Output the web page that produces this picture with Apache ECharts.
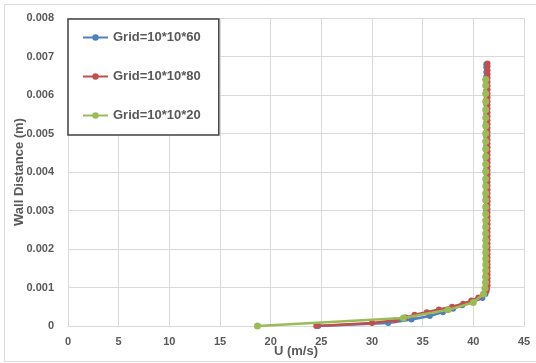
<!DOCTYPE html>
<html>
<head>
<meta charset="utf-8">
<script src="https://cdn.jsdelivr.net/npm/echarts@6/dist/echarts.min.js"></script>
<style>
  html, body { margin: 0; padding: 0; background: #fff; }
  #chart { width: 536px; height: 363px; }
</style>
</head>
<body>
<div id="chart"></div>
<script>
// Velocity profiles (U vs wall distance) for three mesh resolutions
const seriesNames = ['Grid=10*10*60', 'Grid=10*10*80', 'Grid=10*10*20'];

const uGrid60 = [24.7, 31.6, 33.9, 35.7, 37.0, 38.0, 38.9, 40.0, 40.9, 41.2, 41.27,
  41.28, 41.28, 41.28, 41.28, 41.28, 41.28, 41.28, 41.28, 41.28, 41.28,
  41.28, 41.28, 41.28, 41.28, 41.28, 41.28, 41.28, 41.28, 41.28, 41.28,
  41.28, 41.28, 41.28, 41.28, 41.28, 41.28, 41.28, 41.28, 41.28, 41.28,
  41.28, 41.28, 41.28, 41.28, 41.28, 41.28, 41.28, 41.28, 41.28, 41.28,
  41.28, 41.28, 41.28, 41.28, 41.28, 41.28, 41.28, 41.28, 41.28, 41.28];
const yGrid60 = [0, 0.00008, 0.00017, 0.00026, 0.00036, 0.00045, 0.00054, 0.00063, 0.00073, 0.00083, 0.00093,
  0.00104, 0.00115, 0.00126, 0.00137, 0.00148, 0.00159, 0.00170, 0.00181, 0.00192, 0.00204,
  0.00216, 0.00228, 0.00240, 0.00252, 0.00264, 0.00276, 0.00288, 0.00300, 0.00312, 0.00324,
  0.00336, 0.00348, 0.00360, 0.00372, 0.00384, 0.00396, 0.00408, 0.00420, 0.00432, 0.00444,
  0.00456, 0.00468, 0.00480, 0.00492, 0.00504, 0.00516, 0.00528, 0.00540, 0.00552, 0.00564,
  0.00576, 0.00588, 0.00600, 0.00612, 0.00624, 0.00636, 0.00648, 0.00660, 0.00672, 0.00680];

const uGrid80 = [24.5, 30.0, 32.3, 33.3, 34.2, 35.4, 36.6, 37.9, 39.0, 39.8, 40.5, 41.0, 41.3, 41.37,
  41.4, 41.4, 41.4, 41.4, 41.4, 41.4, 41.4, 41.4, 41.4, 41.4,
  41.4, 41.4, 41.4, 41.4, 41.4, 41.4, 41.4, 41.4, 41.4, 41.4,
  41.4, 41.4, 41.4, 41.4, 41.4, 41.4, 41.4, 41.4, 41.4, 41.4,
  41.4, 41.4, 41.4, 41.4, 41.4, 41.4, 41.4, 41.4, 41.4, 41.4,
  41.4, 41.4, 41.4, 41.4, 41.4, 41.4, 41.4, 41.4, 41.4, 41.4,
  41.4, 41.4, 41.4, 41.4, 41.4, 41.4, 41.4, 41.4, 41.4, 41.4];
const yGrid80 = [0, 0.00008, 0.00015, 0.00022, 0.00029, 0.00036, 0.00043, 0.00050, 0.00058, 0.00066, 0.00074, 0.00082, 0.00090, 0.00098,
  0.00106, 0.00115, 0.00124, 0.00133, 0.00142, 0.00151, 0.00160, 0.00169, 0.00178, 0.00187,
  0.00196, 0.00205, 0.00214, 0.00224, 0.00234, 0.00244, 0.00254, 0.00264, 0.00274, 0.00284,
  0.00294, 0.00304, 0.00314, 0.00324, 0.00334, 0.00344, 0.00354, 0.00364, 0.00374, 0.00384,
  0.00394, 0.00404, 0.00414, 0.00424, 0.00434, 0.00444, 0.00454, 0.00464, 0.00474, 0.00484,
  0.00494, 0.00504, 0.00514, 0.00524, 0.00534, 0.00544, 0.00554, 0.00564, 0.00574, 0.00584,
  0.00594, 0.00604, 0.00614, 0.00624, 0.00634, 0.00644, 0.00654, 0.00664, 0.00674, 0.00682];

const uGrid20 = [18.7, 33.1, 37.5, 40.0, 41.0,
  41.15, 41.2, 41.2, 41.22, 41.22, 41.22, 41.22, 41.22, 41.22, 41.22,
  41.22, 41.22, 41.22, 41.22, 41.22, 41.22, 41.22, 41.22, 41.22, 41.22,
  41.22, 41.22, 41.22, 41.22, 41.22, 41.22, 41.22, 41.22, 41.22, 41.22, 41.22];
const yGrid20 = [0, 0.00021, 0.00042, 0.00061, 0.00083,
  0.00098, 0.00113, 0.00128, 0.00144, 0.00159, 0.00175, 0.00191, 0.00207, 0.00223, 0.00240,
  0.00257, 0.00274, 0.00291, 0.00309, 0.00327, 0.00345, 0.00363, 0.00382, 0.00401, 0.00420,
  0.00440, 0.00460, 0.00480, 0.00500, 0.00520, 0.00541, 0.00562, 0.00583, 0.00604, 0.00625, 0.00640];

const xTickLabels = ['0', '5', '10', '15', '20', '25', '30', '35', '40', '45'];
const yTickLabels = ['0', '0.001', '0.002', '0.003', '0.004', '0.005', '0.006', '0.007', '0.008'];

const colors = ['#4F81BD', '#C0504D', '#9BBB59'];
const FONT = 'Liberation Sans';
const TEXT = '#595959';

function pairs(xs, ys) { return xs.map((x, i) => [x, ys[i]]); }

function lineSeries(name, xs, ys, color, z, size) {
  return {
    name: name,
    type: 'line',
    data: pairs(xs, ys),
    z: z,
    symbol: 'circle',
    symbolSize: size,
    showSymbol: true,
    lineStyle: { color: color, width: 2.5 },
    itemStyle: { color: color, borderWidth: 0 },
    emphasis: { disabled: true }
  };
}

const chart = echarts.init(document.getElementById('chart'), null, { renderer: 'canvas' });
chart.setOption({
  animation: false,
  backgroundColor: '#ffffff',
  color: colors,
  graphic: [{
    type: 'rect',
    shape: { x: 4.5, y: 4.5, width: 560, height: 357 },
    style: { fill: 'none', stroke: '#d9d9d9', lineWidth: 1 },
    silent: true,
    z: -10
  }],
  grid: { left: 68, right: 12, top: 18, bottom: 37, containLabel: false, outerBoundsMode: 'none' },
  legend: {
    left: 68,
    top: 19,
    orient: 'vertical',
    data: seriesNames,
    backgroundColor: '#ffffff',
    borderColor: '#404040',
    borderWidth: 1.5,
    borderRadius: 0,
    padding: [11, 18, 12, 14],
    itemWidth: 25,
    itemHeight: 8,
    itemGap: 24,
    lineStyle: { width: 2 },
    textStyle: { fontFamily: FONT, fontSize: 13, fontWeight: 'bold', color: TEXT, lineHeight: 15 }
  },
  xAxis: {
    type: 'value',
    min: 0, max: 45, interval: 5,
    name: 'U (m/s)',
    nameLocation: 'middle',
    nameGap: 19,
    nameMoveOverlap: false,
    nameTextStyle: { fontFamily: FONT, fontSize: 13, fontWeight: 'bold', color: TEXT },
    axisLine: { show: true, lineStyle: { color: '#d9d9d9', width: 1 } },
    axisTick: { show: false },
    axisLabel: {
      margin: 10,
      fontFamily: FONT, fontSize: 11, fontWeight: 'bold', color: TEXT,
      formatter: v => xTickLabels[Math.round(v / 5)]
    },
    splitLine: { show: true, lineStyle: { color: '#d9d9d9', width: 1 } }
  },
  yAxis: {
    type: 'value',
    min: 0, max: 0.008, interval: 0.001,
    name: 'Wall Distance (m)',
    nameLocation: 'middle',
    nameGap: 42,
    nameMoveOverlap: false,
    nameTextStyle: { fontFamily: FONT, fontSize: 13, fontWeight: 'bold', color: TEXT },
    axisLine: { show: false },
    axisTick: { show: false },
    axisLabel: {
      margin: 14,
      fontFamily: FONT, fontSize: 11, fontWeight: 'bold', color: TEXT,
      formatter: v => yTickLabels[Math.round(v / 0.001)]
    },
    splitLine: { show: true, lineStyle: { color: '#d9d9d9', width: 1 } }
  },
  series: [
    lineSeries(seriesNames[0], uGrid60, yGrid60, colors[0], 2, 6),
    lineSeries(seriesNames[1], uGrid80, yGrid80, colors[1], 3, 6),
    lineSeries(seriesNames[2], uGrid20, yGrid20, colors[2], 4, 7)
  ]
});
</script>
</body>
</html>
